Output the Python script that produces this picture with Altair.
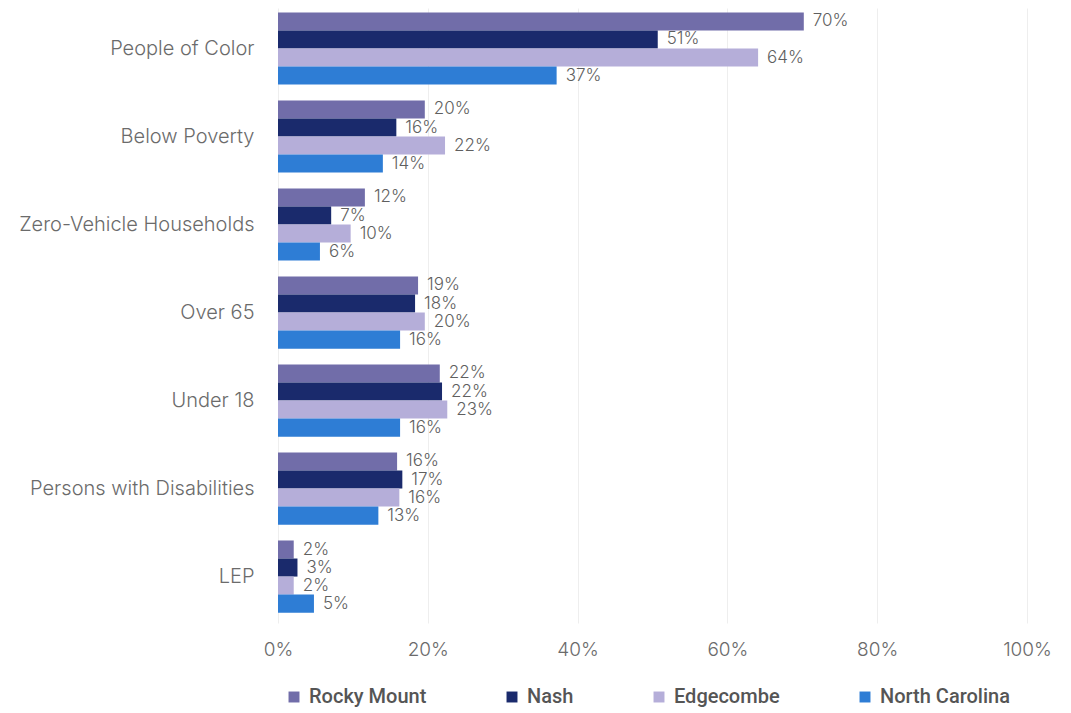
import altair as alt
import pandas as pd

categories = ["People of Color", "Below Poverty", "Zero-Vehicle Households",
              "Over 65", "Under 18", "Persons with Disabilities", "LEP"]
series = ["Rocky Mount", "Nash", "Edgecombe", "North Carolina"]
rocky_mount = [70.2, 19.6, 11.6, 18.7, 21.6, 15.9, 2.1]
nash = [50.7, 15.8, 7.1, 18.3, 21.9, 16.6, 2.6]
edgecombe = [64.1, 22.3, 9.7, 19.6, 22.6, 16.2, 2.1]
north_carolina = [37.2, 14.0, 5.6, 16.3, 16.3, 13.4, 4.8]
colors = ["#716da9", "#1a2a6c", "#b5aed9", "#2e7dd5"]
x_ticks = [0, 20, 40, 60, 80, 100]

rows = []
for s, vals in zip(series, [rocky_mount, nash, edgecombe, north_carolina]):
    for c, v in zip(categories, vals):
        rows.append({"category": c, "series": s, "value": v})
df = pd.DataFrame(rows)

FONT = "Inter"

base = alt.Chart(df).encode(
    y=alt.Y("category:N", sort=categories,
            scale=alt.Scale(paddingInner=0.18, paddingOuter=0.084, align=0.3),
            axis=alt.Axis(title=None, domain=False, ticks=False, labelPadding=24,
                          labelFontSize=20, labelColor="#6b6b6b", labelFont=FONT,
                          labelFontWeight=300, labelLimit=0, grid=False)),
    yOffset=alt.YOffset("series:N", sort=series),
    x=alt.X("value:Q", scale=alt.Scale(domain=[0, 100], nice=False),
            axis=alt.Axis(values=x_ticks, labelExpr="datum.value + '%'", title=None,
                          domain=False, ticks=False, grid=True, gridColor="#eeeeee",
                          gridWidth=1, labelPadding=17, labelFontSize=19,
                          labelFlush=False,
                          labelColor="#6b6b6b", labelFont=FONT, labelFontWeight=300)),
)

bars = base.mark_bar().encode(
    color=alt.Color("series:N", sort=series,
                    scale=alt.Scale(domain=series, range=colors),
                    legend=alt.Legend(title=None, orient="none", direction="horizontal",
                                      legendX=6, legendY=679, symbolType="square",
                                      symbolSize=120, symbolStrokeWidth=0,
                                      labelFontSize=20, labelFont="Roboto",
                                      labelFontWeight=500, labelColor="#555555",
                                      columnPadding=75, labelOffset=5, labelLimit=0))
)

labels = base.mark_text(align="left", baseline="middle", dx=9, fontSize=17,
                        font=FONT, fontWeight=300, color="#5f5f5f").transform_calculate(
    label="format(datum.value, '.0f') + '%'"
).encode(text="label:N")

chart = alt.layer(bars, labels).properties(
    width=749, height=615,
    autosize=alt.AutoSizeParams(type="none"),
    padding={"left": 270, "top": 0, "right": 30, "bottom": 90},
).configure_view(stroke=None)

chart.save("out.html", embed_options={"renderer": "svg", "actions": False})
